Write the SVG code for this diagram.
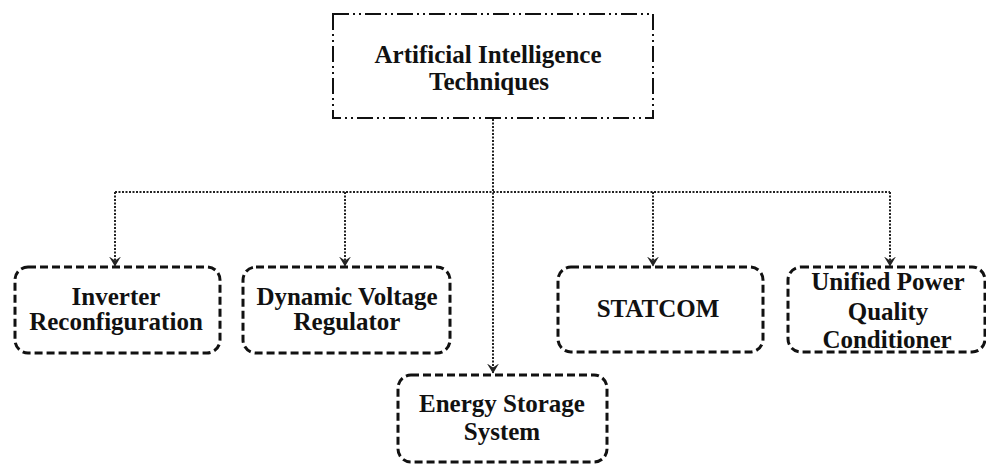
<svg xmlns="http://www.w3.org/2000/svg" width="986" height="465" viewBox="0 0 986 465">
<defs>
<style>
.t{font-family:"Liberation Serif","Times New Roman",serif;font-weight:bold;font-size:25px;fill:#111;text-anchor:middle}
.box{fill:none;stroke:#111;stroke-width:3;stroke-dasharray:8 4}
.top{fill:none;stroke:#111;stroke-width:2;stroke-dasharray:16 4 2 4 2 4}
.c{fill:none;stroke:#222;stroke-width:2;stroke-dasharray:2 1.5}
</style>
<marker id="ah" viewBox="0 0 10 12" refX="9.5" refY="6" markerWidth="10" markerHeight="12" markerUnits="userSpaceOnUse" orient="auto">
<path d="M0,0 L10,6 L0,12 L4,6 Z" fill="#222"/>
</marker>
</defs>
<rect width="986" height="465" fill="#fff"/>
<g id="connectors">
<path class="c" d="M493,119 V373" marker-end="url(#ah)"/>
<path class="c" d="M115,192 H890"/>
<path class="c" d="M115,192 V266" marker-end="url(#ah)"/>
<path class="c" d="M345,192 V266" marker-end="url(#ah)"/>
<path class="c" d="M653,192 V266" marker-end="url(#ah)"/>
<path class="c" d="M890,192 V266" marker-end="url(#ah)"/>
</g>
<g id="ai">
<rect class="top" x="333" y="14" width="320" height="104"/>
<text class="t" x="488" y="63">Artificial Intelligence</text>
<text class="t" x="489" y="90">Techniques</text>
</g>
<g id="inverter">
<rect class="box" x="15" y="267" width="205" height="86" rx="13"/>
<text class="t" x="116" y="305">Inverter</text>
<text class="t" x="116" y="330">Reconfiguration</text>
</g>
<g id="dvr">
<rect class="box" x="243" y="267" width="207" height="86" rx="13"/>
<text class="t" x="347" y="305">Dynamic Voltage</text>
<text class="t" x="347" y="330">Regulator</text>
</g>
<g id="ess">
<rect class="box" x="398" y="375" width="209" height="87" rx="13"/>
<text class="t" x="502" y="412">Energy Storage</text>
<text class="t" x="502" y="440">System</text>
</g>
<g id="statcom">
<rect class="box" x="558" y="267" width="205" height="85" rx="13"/>
<text class="t" x="658" y="317">STATCOM</text>
</g>
<g id="upqc">
<rect class="box" x="788" y="267" width="197" height="85" rx="13"/>
<text class="t" x="888" y="290">Unified Power</text>
<text class="t" x="888" y="320">Quality</text>
<text class="t" x="887" y="348">Conditioner</text>
</g>
</svg>
